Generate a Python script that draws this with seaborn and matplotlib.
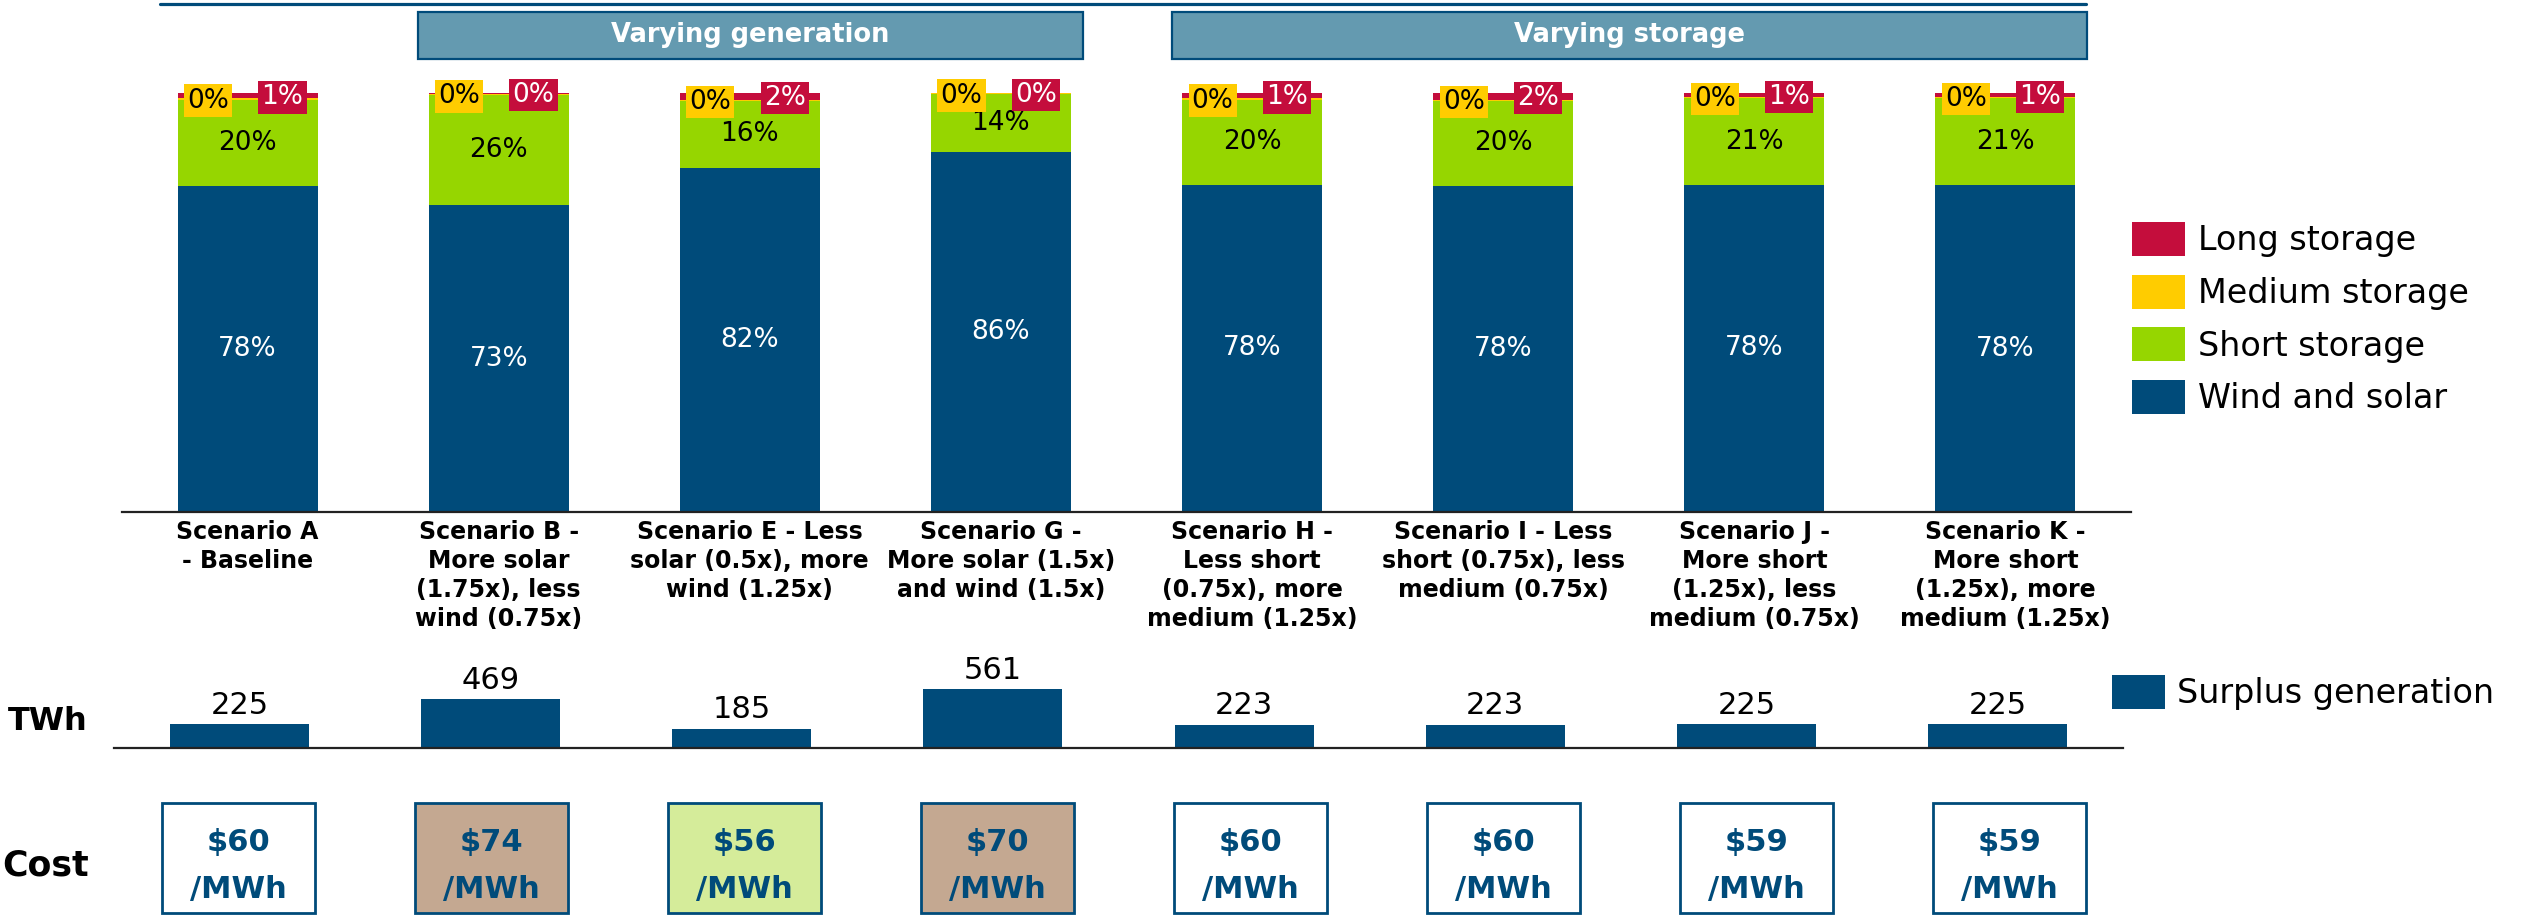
import matplotlib
matplotlib.use("Agg")
import matplotlib.pyplot as plt
import seaborn as sns
import pandas as pd
from matplotlib.patches import Rectangle, Patch
from matplotlib.lines import Line2D
from matplotlib import transforms

# ---------------- data ----------------
scenarios = [
    "Scenario A\n- Baseline",
    "Scenario B -\nMore solar\n(1.75x), less\nwind (0.75x)",
    "Scenario E - Less\nsolar (0.5x), more\nwind (1.25x)",
    "Scenario G -\nMore solar (1.5x)\nand wind (1.5x)",
    "Scenario H -\nLess short\n(0.75x), more\nmedium (1.25x)",
    "Scenario I - Less\nshort (0.75x), less\nmedium (0.75x)",
    "Scenario J -\nMore short\n(1.25x), less\nmedium (0.75x)",
    "Scenario K -\nMore short\n(1.25x), more\nmedium (1.25x)",
]
wind_solar = [77.9, 73.2, 82.1, 86.0, 78.1, 77.9, 78.1, 78.0]
short_storage = [20.4, 26.3, 16.0, 13.8, 20.2, 20.1, 20.6, 20.7]
medium_storage = [0.4, 0.2, 0.3, 0.1, 0.4, 0.4, 0.3, 0.3]
long_storage = [1.3, 0.3, 1.6, 0.1, 1.3, 1.6, 1.0, 1.0]
surplus_twh = [225, 469, 185, 561, 223, 223, 225, 225]
cost_mwh = [60, 74, 56, 70, 60, 60, 59, 59]
groups = [("Varying generation", 1, 3), ("Varying storage", 4, 7)]
components = ["Long storage", "Medium storage", "Short storage", "Wind and solar"]

# ---------------- styles ----------------
DARK = "#004B7A"
GREEN = "#96D600"
YELLOW = "#FFCC00"
RED = "#C40D3C"
HEADER = "#649AB0"
palette = {"Long storage": RED, "Medium storage": YELLOW,
           "Short storage": GREEN, "Wind and solar": DARK}
cost_fill = ["white", "#C4A891", "#D5EC9A", "#C4A891",
             "white", "white", "white", "white"]

sns.set_style("white")
plt.rcParams["font.family"] = ["DejaVu Sans"]
plt.rcParams["text.color"] = "black"
plt.rcParams["xtick.color"] = "black"
plt.rcParams["legend.labelcolor"] = "black"

W, H = 2526, 915
fig = plt.figure(figsize=(W / 100, H / 100), dpi=100)

# ---------------- main stacked chart ----------------
ax = fig.add_axes([122 / W, (H - 512) / H, 2009 / W, 419 / H])
rows = []
for i, sc in enumerate(scenarios):
    w, s, m, l = wind_solar[i], short_storage[i], medium_storage[i], long_storage[i]
    cums = {"Long storage": w + s + m + l, "Medium storage": w + s + m,
            "Short storage": w + s, "Wind and solar": w}
    for c in components:
        rows.append({"scenario": sc, "component": c, "cum": cums[c]})
df = pd.DataFrame(rows)
sns.barplot(data=df, x="scenario", y="cum", hue="component", hue_order=components,
            palette=palette, dodge=False, width=0.557, saturation=1,
            linewidth=0, ax=ax, errorbar=None)
handles, labels = ax.get_legend_handles_labels()
if ax.get_legend() is not None:
    ax.get_legend().remove()
ax.set_xlim(-0.5, len(scenarios) - 0.5)
ax.set_ylim(0, 100)
ax.set_xlabel("")
ax.set_ylabel("")
ax.set_yticks([])
for sp in ["top", "left", "right"]:
    ax.spines[sp].set_visible(False)
ax.spines["bottom"].set_color("#222222")
ax.spines["bottom"].set_linewidth(1.6)
ax.tick_params(axis="x", length=0, pad=6, labelsize=17, labelcolor="black")
for lbl in ax.get_xticklabels():
    lbl.set_fontweight("bold")
    lbl.set_linespacing(1.25)

for i in range(len(scenarios)):
    w, s, m, l = wind_solar[i], short_storage[i], medium_storage[i], long_storage[i]
    ax.text(i, w / 2, f"{w:.0f}%", color="white", ha="center", va="center", fontsize=19)
    ax.text(i, w + s / 2, f"{s:.0f}%", color="black", ha="center", va="center", fontsize=19)
    ax.text(i - 0.157, w + s + m - 0.5, f"{m:.0f}%", color="black", ha="center",
            va="center", fontsize=19, clip_on=False,
            bbox=dict(boxstyle="square,pad=0.12", facecolor=YELLOW, edgecolor="none"))
    ax.text(i + 0.139, (w + s + m + 100) / 2 - 0.4, f"{l:.0f}%", color="white",
            ha="center", va="center", fontsize=19, clip_on=False,
            bbox=dict(boxstyle="square,pad=0.12", facecolor=RED, edgecolor="none"))

fig.legend(handles, labels, loc="upper left",
           bbox_to_anchor=(2132 / W, (H - 222) / H), frameon=False, fontsize=24,
           handlelength=1.6, handleheight=1.2, labelspacing=0.52,
           handletextpad=0.38, borderpad=0, borderaxespad=0)

# header boxes and top rule
trans = transforms.blended_transform_factory(ax.transData, fig.transFigure)
fig.add_artist(Line2D([-0.35, 7.32], [(H - 3.5) / H] * 2, transform=trans,
                      color=DARK, lw=2.3))
for name, a, b in groups:
    x0, x1 = a - 0.32, b + 0.325
    fig.add_artist(Rectangle((x0, (H - 59) / H), x1 - x0, 47 / H, transform=trans,
                             facecolor=HEADER, edgecolor=DARK, lw=1.6))
    fig.text((x0 + x1) / 2, (H - 35.5) / H, name, transform=trans, ha="center",
             va="center", color="white", fontsize=18.5, fontweight="bold")

# ---------------- surplus generation panel ----------------
ax2 = fig.add_axes([114 / W, (H - 748) / H, 2009 / W, 108 / H])
sns.barplot(x=list(range(len(scenarios))), y=surplus_twh, color=DARK, saturation=1,
            width=0.554, linewidth=0, ax=ax2, errorbar=None)
ax2.set_xlim(-0.5, len(scenarios) - 0.5)
ax2.set_ylim(0, 1027)
ax2.set_xticks([])
ax2.set_yticks([])
for sp in ["top", "left", "right"]:
    ax2.spines[sp].set_visible(False)
ax2.spines["bottom"].set_color("#222222")
ax2.spines["bottom"].set_linewidth(1.6)
ax2.bar_label(ax2.containers[0], labels=[str(v) for v in surplus_twh], padding=3,
              fontsize=22, color="black")
fig.legend([Patch(facecolor=DARK, edgecolor="none")], ["Surplus generation"],
           loc="upper left", bbox_to_anchor=(2112 / W, (H - 675) / H), frameon=False,
           fontsize=24, handlelength=1.6, handleheight=1.2, handletextpad=0.36,
           borderpad=0, borderaxespad=0)
fig.text(8 / W, (H - 721) / H, "TWh", ha="left", va="center", fontsize=23,
         fontweight="bold", color="black")

# ---------------- cost panel ----------------
ax3 = fig.add_axes([112 / W, 0, 2024 / W, 115 / H])
ax3.set_xlim(-0.5, len(scenarios) - 0.5)
ax3.set_ylim(0, 1)
ax3.axis("off")
for i, c in enumerate(cost_mwh):
    ax3.add_patch(Rectangle((i - 0.3025, 0.02), 0.605, 0.955, facecolor=cost_fill[i],
                            edgecolor=DARK, lw=2.0))
    ax3.text(i, 0.63, "\\$" + str(c), ha="center", va="center", fontsize=22,
             fontweight="bold", color=DARK)
    ax3.text(i, 0.22, "/MWh", ha="center", va="center", fontsize=22,
             fontweight="bold", color=DARK)
fig.text(2 / W, (H - 866) / H, "Cost", ha="left", va="center", fontsize=25,
         fontweight="bold", color="black")

fig.savefig("out.png", dpi=100)
